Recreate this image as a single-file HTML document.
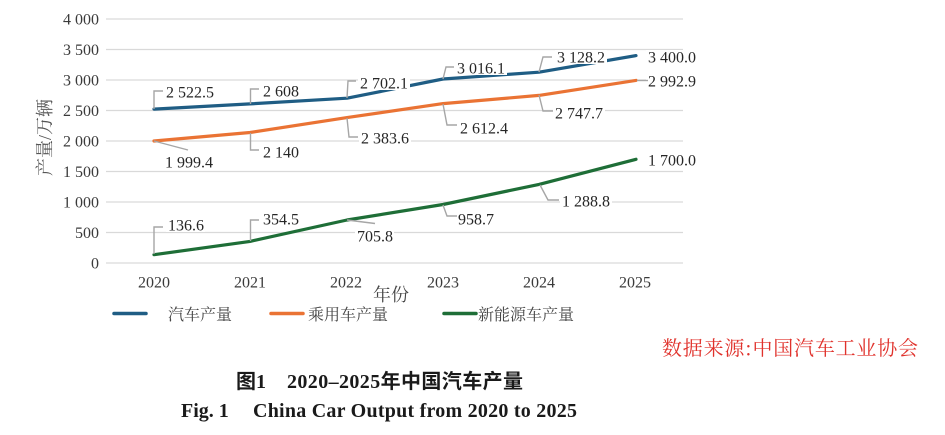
<!DOCTYPE html>
<html><head><meta charset="utf-8"><style>
html,body{margin:0;padding:0;background:#fff;}
svg{display:block;}
.num{font-family:"Liberation Serif",serif;}
.cjk{font-family:"Liberation Serif","Noto Serif CJK SC",serif;}
</style></head><body>
<svg width="945" height="435" viewBox="0 0 945 435" xmlns="http://www.w3.org/2000/svg">
<rect width="945" height="435" fill="#fff"/>
<!-- gridlines -->
<g stroke="#d9d9d9" stroke-width="1.3">
<line x1="106" x2="683" y1="263" y2="263"/>
<line x1="106" x2="683" y1="232.5" y2="232.5"/>
<line x1="106" x2="683" y1="202" y2="202"/>
<line x1="106" x2="683" y1="171.5" y2="171.5"/>
<line x1="106" x2="683" y1="141" y2="141"/>
<line x1="106" x2="683" y1="110.5" y2="110.5"/>
<line x1="106" x2="683" y1="80" y2="80"/>
<line x1="106" x2="683" y1="49.5" y2="49.5"/>
<line x1="106" x2="683" y1="19" y2="19"/>
</g>
<!-- y labels -->
<g class="num" font-size="16" fill="#3a3a3a" text-anchor="end">
<text x="99" y="268.5">0</text>
<text x="99" y="238">500</text>
<text x="99" y="207.5">1 000</text>
<text x="99" y="177">1 500</text>
<text x="99" y="146.5">2 000</text>
<text x="99" y="116">2 500</text>
<text x="99" y="85.5">3 000</text>
<text x="99" y="55">3 500</text>
<text x="99" y="24.5">4 000</text>
</g>
<!-- x labels -->
<g class="num" font-size="16" fill="#3a3a3a" text-anchor="middle">
<text x="154" y="287.5">2020</text>
<text x="250" y="287.5">2021</text>
<text x="346" y="287.5">2022</text>
<text x="443" y="287.5">2023</text>
<text x="539" y="287.5">2024</text>
<text x="635" y="287.5">2025</text>
</g>
<!-- axis titles -->
<text class="cjk" x="373" y="301" font-size="18" fill="#444">年份</text>
<text class="cjk" font-size="18" fill="#555" text-anchor="middle" transform="translate(51,137.5) rotate(-90)">产量/万辆</text>

<!-- series -->
<g fill="none" stroke-width="3.2" stroke-linejoin="round" stroke-linecap="round">
<polyline stroke="#1f5d84" points="154,109.1 250,103.9 347,98.2 443,79 539,72.2 636,55.6"/>
<polyline stroke="#ea7334" points="154,141 250,132.5 347,117.6 443,103.6 539,95.4 636,80.4"/>
<polyline stroke="#1e6e37" points="154,254.7 250,241.4 347,220 443,204.5 539,184.4 636,159.3"/>
</g>

<!-- label backgrounds -->
<g fill="#fff">
<rect x="164" y="85" width="52" height="14"/>
<rect x="261" y="84" width="38" height="14"/>
<rect x="358" y="76" width="52" height="14"/>
<rect x="455" y="61" width="52" height="14"/>
<rect x="555" y="50" width="52" height="14"/>
<rect x="646" y="50" width="52" height="14"/>
<rect x="163" y="155" width="52" height="14"/>
<rect x="261" y="145" width="38" height="14"/>
<rect x="359" y="131" width="52" height="14"/>
<rect x="458" y="121" width="52" height="14"/>
<rect x="553" y="106" width="52" height="14"/>
<rect x="646" y="74" width="52" height="14"/>
<rect x="166" y="218" width="39" height="14"/>
<rect x="261" y="212" width="39" height="14"/>
<rect x="355" y="229" width="39" height="14"/>
<rect x="456" y="212" width="39" height="14"/>
<rect x="560" y="194" width="52" height="14"/>
<rect x="646" y="153" width="52" height="14"/>
</g>

<!-- leaders -->
<g fill="none" stroke="#a6a6a6" stroke-width="1.4">
<polyline points="154,109 154,91 163,91"/>
<polyline points="250.5,104 250.5,89 259,89"/>
<polyline points="347,98 348,81 356,81"/>
<polyline points="443,79 446,67 454,67"/>
<polyline points="539,72 543,57 552,57"/>
<polyline points="154,141 188,150"/>
<polyline points="250.5,133 250.5,150 259,150"/>
<polyline points="347,118 349,137 358,137"/>
<polyline points="443,104 447,125 457,125"/>
<polyline points="539,95 543,111 553,111"/>
<polyline points="637,80.5 648,80.5"/>
<polyline points="154,254 154,227 163,227"/>
<polyline points="250.5,241 250.5,220 259,220"/>
<polyline points="347,220 375,223.5"/>
<polyline points="443,205 447,216 457,216"/>
<polyline points="540,185 548,200 559,200"/>
</g>

<!-- data labels -->
<g class="num" font-size="16" fill="#262626">
<text x="166" y="97.5">2 522.5</text>
<text x="263" y="96.5">2 608</text>
<text x="360" y="88.5">2 702.1</text>
<text x="457" y="73.5">3 016.1</text>
<text x="557" y="62.5">3 128.2</text>
<text x="648" y="62.5">3 400.0</text>
<text x="165" y="167.5">1 999.4</text>
<text x="263" y="157.5">2 140</text>
<text x="361" y="143.5">2 383.6</text>
<text x="460" y="133.5">2 612.4</text>
<text x="555" y="118.5">2 747.7</text>
<text x="648" y="86.5">2 992.9</text>
<text x="168" y="230.5">136.6</text>
<text x="263" y="224.5">354.5</text>
<text x="357" y="241.5">705.8</text>
<text x="458" y="224.5">958.7</text>
<text x="562" y="206.5">1 288.8</text>
<text x="648" y="165.5">1 700.0</text>
</g>

<!-- legend -->
<g stroke-width="3.5" stroke-linecap="round">
<line x1="114" x2="146" y1="313.5" y2="313.5" stroke="#1f5d84"/>
<line x1="271" x2="303" y1="313.5" y2="313.5" stroke="#ea7334"/>
<line x1="444" x2="476" y1="313.5" y2="313.5" stroke="#1e6e37"/>
</g>
<g class="cjk" font-size="16" fill="#444">
<text x="168" y="320">汽车产量</text>
<text x="308" y="320">乘用车产量</text>
<text x="478" y="320">新能源车产量</text>
</g>

<!-- source -->
<text x="662" y="355" font-size="20" fill="#e0322c" font-family="'Noto Serif CJK SC','Liberation Serif',serif" textLength="256" lengthAdjust="spacing">数据来源:中国汽车工业协会</text>

<!-- captions -->
<g font-weight="bold" fill="#1a1a1a" font-family="'Liberation Serif','Noto Sans CJK SC',sans-serif" font-size="20">
<text x="236" y="388">图1</text>
<text x="287" y="388" textLength="236" lengthAdjust="spacing">2020–2025年中国汽车产量</text>
<text x="181" y="417">Fig. 1</text>
<text x="253" y="417" textLength="324" lengthAdjust="spacing">China Car Output from 2020 to 2025</text>
</g>
</svg>
</body></html>
